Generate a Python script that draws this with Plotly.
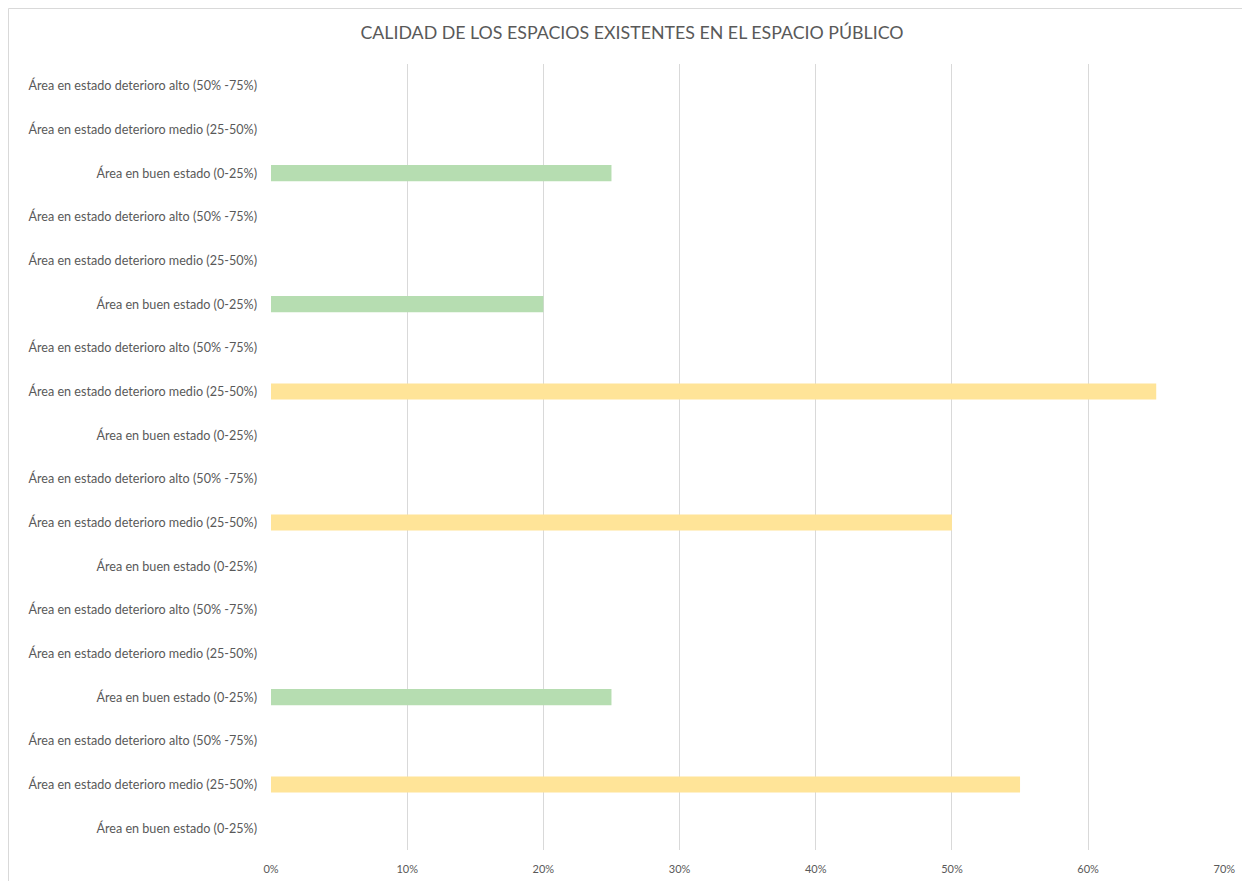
import plotly.graph_objects as go

# Categories listed bottom-to-top (Excel order)
categories = [
    "Área en buen estado (0-25%)",
    "Área en estado deterioro medio (25-50%)",
    "Área en estado deterioro alto (50% -75%)",
    "Área en buen estado (0-25%)",
    "Área en estado deterioro medio (25-50%)",
    "Área en estado deterioro alto (50% -75%)",
    "Área en buen estado (0-25%)",
    "Área en estado deterioro medio (25-50%)",
    "Área en estado deterioro alto (50% -75%)",
    "Área en buen estado (0-25%)",
    "Área en estado deterioro medio (25-50%)",
    "Área en estado deterioro alto (50% -75%)",
    "Área en buen estado (0-25%)",
    "Área en estado deterioro medio (25-50%)",
    "Área en estado deterioro alto (50% -75%)",
    "Área en buen estado (0-25%)",
    "Área en estado deterioro medio (25-50%)",
    "Área en estado deterioro alto (50% -75%)",
]
values = [0, 0.55, 0, 0.25, 0, 0, 0, 0.50, 0, 0, 0.65, 0, 0.20, 0, 0, 0.25, 0, 0]
tick_vals_x = [0, 0.1, 0.2, 0.3, 0.4, 0.5, 0.6, 0.7]
tick_text_x = ["0%", "10%", "20%", "30%", "40%", "50%", "60%", "70%"]

GREEN = "#B6DDB1"
YELLOW = "#FFE498"
colors = [GREEN if c.startswith("Área en buen") else YELLOW for c in categories]

positions = list(range(len(categories)))

fig = go.Figure(go.Bar(
    x=values, y=positions, orientation="h",
    marker=dict(color=colors, line=dict(width=0)),
    width=0.37, hoverinfo="x",
))

W, H = 1242, 881
ml, mr, mt, mb = 271, 17, 64, 31
pw, ph = W - ml - mr, H - mt - mb

bx = (8.5 - ml) / pw
by = 1 + (mt - 8.5) / ph

fig.update_layout(
    width=W, height=H,
    margin=dict(l=ml, r=mr, t=mt, b=mb),
    paper_bgcolor="white", plot_bgcolor="white",
    showlegend=False,
    font=dict(family="Lato, 'Open Sans', sans-serif", color="#595959"),
    title=dict(
        text="CALIDAD DE LOS ESPACIOS EXISTENTES EN EL ESPACIO PÚBLICO",
        x=632 / W, xanchor="center", xref="container",
        y=1 - 33 / H, yanchor="middle", yref="container",
        font=dict(size=17.8, color="#595959"),
    ),
    xaxis=dict(
        range=[0, 0.7005], tickvals=tick_vals_x, ticktext=tick_text_x,
        showgrid=True, gridcolor="#D9D9D9", gridwidth=1,
        zeroline=False, showline=False, ticks="",
        tickfont=dict(size=11, color="#595959"),
        ticklabelstandoff=11,
        automargin=False,
        fixedrange=True,
    ),
    yaxis=dict(
        range=[-0.5, len(categories) - 0.5],
        tickvals=positions, ticktext=categories,
        showgrid=False, zeroline=False, showline=False, ticks="",
        tickfont=dict(size=12.6, color="#595959"),
        ticklabelstandoff=13,
        automargin=False,
        fixedrange=True,
    ),
    shapes=[
        dict(type="line", xref="paper", yref="paper",
             x0=bx, x1=1.5, y0=by, y1=by,
             line=dict(color="#D9D9D9", width=1), layer="below"),
        dict(type="line", xref="paper", yref="paper",
             x0=bx, x1=bx, y0=-0.5, y1=by,
             line=dict(color="#D9D9D9", width=1), layer="below"),
    ],
)

fig.write_html(
    "out.html",
    config={"displayModeBar": False},
    post_script="document.body.style.margin='0';document.body.style.overflow='hidden';"
                "document.documentElement.style.overflow='hidden';",
)
